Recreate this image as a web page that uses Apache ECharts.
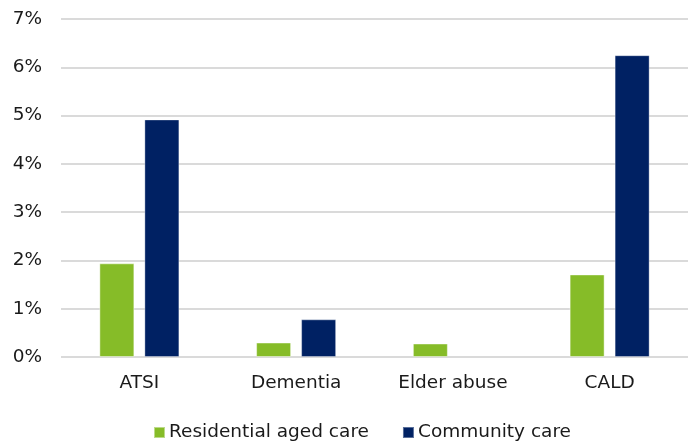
<!DOCTYPE html>
<html>
<head>
<meta charset="utf-8">
<script src="https://cdn.jsdelivr.net/npm/echarts@6/dist/echarts.min.js"></script>
<style>
  html, body { margin: 0; padding: 0; background: #fff; }
  #chart { width: 688px; height: 441px; }
</style>
</head>
<body>
<div id="chart"></div>
<script>
// Share of clients by special-needs group, by care type (percent)
const categories = ['ATSI', 'Dementia', 'Elder abuse', 'CALD'];
const residentialAgedCare = [1.94, 0.30, 0.28, 1.71];
const communityCare = [4.92, 0.78, null, 6.25];
const seriesNames = ['Residential aged care', 'Community care'];

const FONT = '"DejaVu Sans", Verdana, sans-serif';
const TEXT = '#1a1a1a';
const FS = 18.5;

const chart = echarts.init(document.getElementById('chart'), null, { renderer: 'canvas' });

chart.setOption({
  animation: false,
  backgroundColor: '#ffffff',
  grid: { left: 61, right: 0, top: 19, bottom: 84, containLabel: false },
  legend: {
    left: 153,
    top: 423,
    padding: 0,
    itemWidth: 11,
    itemHeight: 11,
    itemGap: 33,
    icon: 'rect',
    textStyle: { fontFamily: FONT, fontSize: FS, color: TEXT, padding: [0, 0, 0, -1] },
    data: seriesNames
  },
  xAxis: {
    type: 'category',
    data: categories,
    axisLine: { show: false },
    axisTick: { show: false },
    axisLabel: { fontFamily: FONT, fontSize: FS, color: TEXT, margin: 17 }
  },
  yAxis: {
    type: 'value',
    min: 0,
    max: 7,
    interval: 1,
    axisLine: { show: false },
    axisTick: { show: false },
    splitLine: { lineStyle: { color: '#dadada', width: 2 } },
    axisLabel: {
      fontFamily: FONT, fontSize: FS, color: TEXT, margin: 19,
      formatter: v => v + '%'
    }
  },
  series: [
    {
      name: seriesNames[0],
      type: 'bar',
      data: residentialAgedCare,
      barWidth: 35,
      barGap: '28.6%',
      itemStyle: { color: '#86bc28', borderColor: 'rgba(255,255,255,0.45)', borderWidth: 1 }
    },
    {
      name: seriesNames[1],
      type: 'bar',
      data: communityCare,
      barWidth: 35,
      barGap: '28.6%',
      itemStyle: { color: '#002163', borderColor: 'rgba(255,255,255,0.35)', borderWidth: 1 }
    }
  ]
});
</script>
</body>
</html>
